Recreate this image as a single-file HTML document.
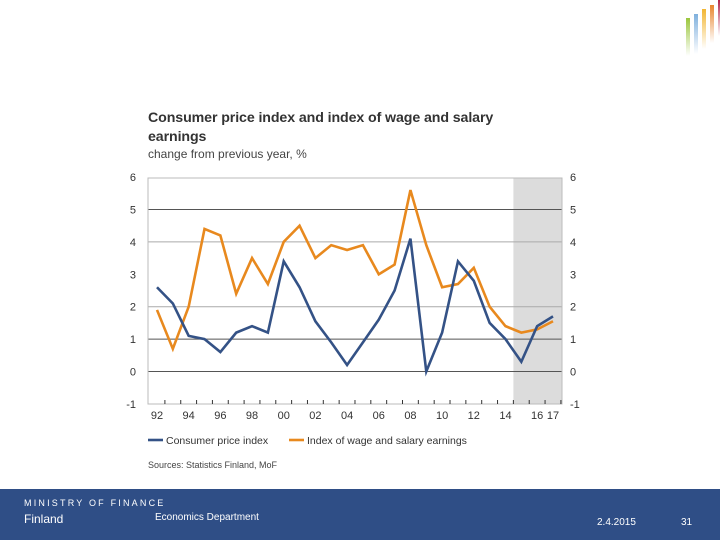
<!DOCTYPE html>
<html><head><meta charset="utf-8"><style>
body{margin:0;width:720px;height:540px;background:#fff;position:relative;overflow:hidden;font-family:"Liberation Sans",Arial,sans-serif}
.t{position:absolute;color:#222}
#footer{position:absolute;left:0;top:489px;width:720px;height:51px;background:#2f4e86;color:#fff}
</style></head><body>
<div style="position:absolute;left:686px;top:0">
<div style="position:absolute;left:0;top:18px;width:4px;height:38px;background:linear-gradient(#9bc63c,#fff)"></div>
<div style="position:absolute;left:8px;top:14px;width:4px;height:40px;background:linear-gradient(#7fb0dd,#fff)"></div>
<div style="position:absolute;left:16px;top:9px;width:4px;height:40px;background:linear-gradient(#f2b632,#fff)"></div>
<div style="position:absolute;left:24px;top:5px;width:4px;height:38px;background:linear-gradient(#e8862e,#fff)"></div>
<div style="position:absolute;left:32px;top:0px;width:4px;height:36px;background:linear-gradient(#b0234a,#fff)"></div>
</div>
<div class="t" style="left:148px;top:109px;font-size:14.2px;font-weight:bold;line-height:19px;color:#333;letter-spacing:-0.1px">Consumer price index and index of wage and salary<br>earnings</div>
<div class="t" style="left:148px;top:147px;font-size:12px;color:#444">change from previous year, %</div>
<svg id="chart" width="720" height="480" style="position:absolute;left:0;top:0" font-family="Liberation Sans, Arial, sans-serif"></svg>
<div class="t" style="left:148px;top:460px;font-size:9px;color:#444">Sources: Statistics Finland, MoF</div>
<div id="footer">
<div style="position:absolute;left:24px;top:9px;font-size:9px;letter-spacing:2.2px">MINISTRY OF FINANCE</div>
<div style="position:absolute;left:24px;top:23px;font-size:12px">Finland</div>
<div style="position:absolute;left:155px;top:23px;font-size:10px">Economics Department</div>
<div style="position:absolute;left:597px;top:28px;font-size:10px">2.4.2015</div>
<div style="position:absolute;left:681px;top:28px;font-size:10px">31</div>
</div>
<script>
const years=[1992,1993,1994,1995,1996,1997,1998,1999,2000,2001,2002,2003,2004,2005,2006,2007,2008,2009,2010,2011,2012,2013,2014,2015,2016,2017];
const cpi=[2.6,2.1,1.1,1.0,0.6,1.2,1.4,1.2,3.4,2.6,1.55,0.9,0.2,0.9,1.6,2.5,4.1,0.0,1.2,3.4,2.8,1.5,1.0,0.3,1.4,1.7];
const wages=[1.9,0.7,2.0,4.4,4.2,2.4,3.5,2.7,4.0,4.5,3.5,3.9,3.75,3.9,3.0,3.3,5.6,3.9,2.6,2.7,3.2,2.0,1.4,1.2,1.3,1.55];
const yTicks=[-1,0,1,2,3,4,5,6];
const xLabels=["92","94","96","98","00","02","04","06","08","10","12","14","16","17"];
const xLabelYears=[1992,1994,1996,1998,2000,2002,2004,2006,2008,2010,2012,2014,2016,2017];
const forecastStart=2014.5;
const L=148,R=562,T=178,B=404;
const x=v=>157+(v-1992)*15.84;
const y=v=>371.5-v*32.4;
const s=document.getElementById('chart');
const NS='http://www.w3.org/2000/svg';
function mk(t,a){const e=document.createElementNS(NS,t);for(const k in a)e.setAttribute(k,a[k]);s.appendChild(e);return e;}
let e=mk('rect',{x:x(forecastStart),y:T,width:R-x(forecastStart),height:B-T,fill:'#dcdcdc'});


yTicks.forEach(v=>{
 if(v>-1&&v<6&&v!==3){let g=mk('line',{x1:L,x2:R,y1:y(v),y2:y(v),stroke:(v==4||v==2)?'#aaa':'#555','stroke-width':1});
 
 }
 let a=mk('text',{x:136,y:y(v)+4,'font-size':11,fill:'#333','text-anchor':'end'});a.textContent=v;
 
 
 let b=mk('text',{x:570,y:y(v)+4,'font-size':11,fill:'#333'});b.textContent=v;
 
 
});
e=mk('rect',{x:L,y:T,width:R-L,height:B-T,fill:'none',stroke:'#bbb','stroke-width':1});


years.forEach(yr=>{let t=mk('line',{x1:x(yr)+7.9,x2:x(yr)+7.9,y1:B,y2:B-4,stroke:'#333'});
 
 });
xLabels.forEach((l,i)=>{let t=mk('text',{x:x(xLabelYears[i]),y:B+15,'font-size':11,fill:'#333','text-anchor':'middle'});t.textContent=l;
 
 });
function line(d,c,n){let p=mk('polyline',{points:d.map((v,i)=>x(years[i])+','+y(v)).join(' '),fill:'none',stroke:c,'stroke-width':2.6,'stroke-linejoin':'miter'});
 
 }
line(wages,'#e8891e','wages-line');
line(cpi,'#345286','cpi-line');
e=mk('line',{x1:148,x2:163,y1:440,y2:440,stroke:'#345286','stroke-width':2.6});


e=mk('text',{x:166,y:444,'font-size':10.5,fill:'#333'});e.textContent='Consumer price index';


e=mk('line',{x1:289,x2:304,y1:440,y2:440,stroke:'#e8891e','stroke-width':2.6});


e=mk('text',{x:307,y:444,'font-size':10.5,fill:'#333'});e.textContent='Index of wage and salary earnings';


</script>
</body></html>
